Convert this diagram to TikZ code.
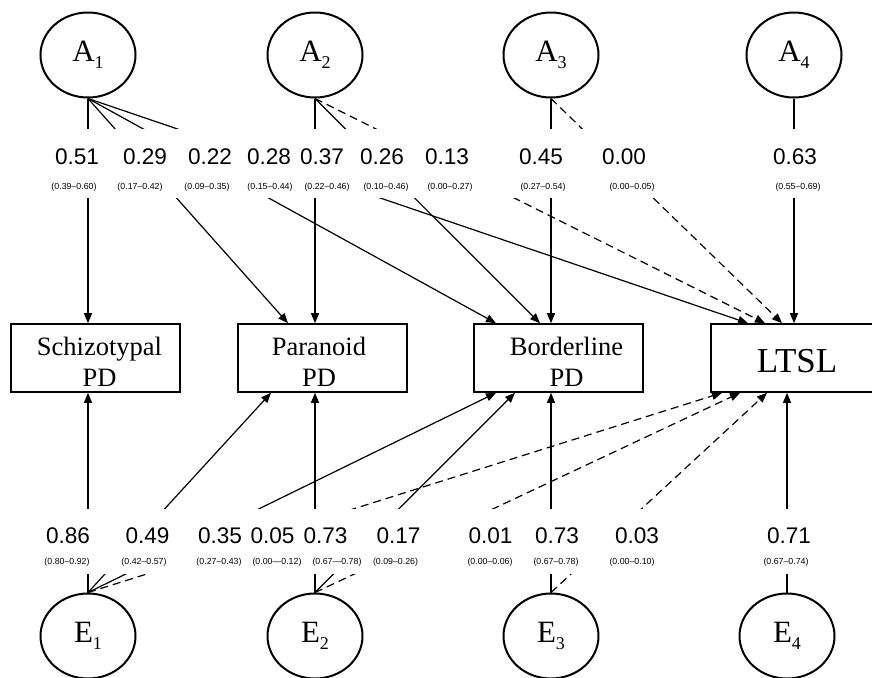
\documentclass[tikz,border=0pt]{standalone}
\usepackage{fontspec}
\setmainfont{Liberation Serif}
\newfontfamily\numfont{Liberation Sans}
\usetikzlibrary{shapes, positioning, arrows.meta, calc}

\newcommand{\lat}[2]{#1\raisebox{-3.5pt}{\fontsize{9}{9}\selectfont #2}}

\tikzset{
    latent/.style={ellipse, draw, line width=1pt, minimum width=47.5pt, minimum height=42.5pt, inner sep=0pt, font=\fontsize{15.5}{18}\selectfont},
    pdbox/.style={rectangle, draw, line width=0.8pt, minimum width=84.5pt, minimum height=34pt},
    pdtext/.style={align=center, inner sep=0pt, font=\fontsize{13.25}{15.8}\selectfont},
    est/.style={inner sep=0pt, font=\numfont\fontsize{11.3}{12}\selectfont},
    ci/.style={inner sep=0pt, font=\numfont\fontsize{4.4}{5}\selectfont},
    arr/.style={line width=0.6pt, -{Triangle[length=5pt, width=4pt]}},
    nsarr/.style={arr, dash pattern=on 4pt off 2.5pt}
}

\begin{document}
\begin{tikzpicture}[x=0.5pt, y=-0.5pt]
        \useasboundingbox (0,0) rectangle (872,677);
        \clip (0,0) rectangle (872,677);

        % latent factors
        \node[latent] (A1) at (88, 55) {\lat{A}{1}};
        \node[latent] (A2) at (315, 55) {\lat{A}{2}};
        \node[latent] (A3) at (551, 55) {\lat{A}{3}};
        \node[latent] (A4) at (794, 55) {\lat{A}{4}};
        \node[latent] (E1) at (88, 636) {\lat{E}{1}};
        \node[latent] (E2) at (315, 636) {\lat{E}{2}};
        \node[latent] (E3) at (551, 636) {\lat{E}{3}};
        \node[latent] (E4) at (787, 636) {\lat{E}{4}};

        % observed
        \node[pdbox] (schizo) at (95.5, 358) {};
        \node[pdbox] (parano) at (322.5, 358) {};
        \node[pdbox] (border) at (558.5, 358) {};
        \node[pdbox] (ltsl) at (795.5, 358) {};
        \node[pdtext] (schizot) at (99.5, 362) {Schizotypal\\PD};
        \node[pdtext] (paranot) at (319, 362) {Paranoid\\PD};
        \node[pdtext] (bordert) at (566.5, 362) {Borderline\\PD};
        \node[inner sep=0pt, font=\fontsize{17.5}{20}\selectfont] (ltslt) at (797, 361) {LTSL};

        % A paths
        \draw[arr] (A1.south) -- (A1 |- schizo.north);
        \draw[arr] (A1.south) -- ($(parano.north)+(-34.5,0)$);
        \draw[arr] (A1.south) -- ($(border.north)+(-62.5,0)$);
        \draw[arr] (A1.south) -- ($(ltsl.north)+(-47.5,0)$);
        \draw[arr] (A2.south) -- (A2 |- parano.north);
        \draw[arr] (A2.south) -- ($(border.north)+(-18.5,0)$);
        \draw[nsarr] (A2.south) -- ($(ltsl.north)+(-30.5,0)$);
        \draw[arr] (A3.south) -- (A3 |- border.north);
        \draw[nsarr] (A3.south) -- ($(ltsl.north)+(-13.5,0)$);
        \draw[arr] (A4.south) -- (A4 |- ltsl.north);

        % E paths
        \draw[arr] (E1.north) -- (E1 |- schizo.south);
        \draw[arr] (E1.north) -- ($(parano.south)+(-51.5,0)$);
        \draw[arr] (E1.north) -- ($(border.south)+(-62.5,0)$);
        \draw[nsarr] (E1.north) -- ($(ltsl.south)+(-73.5,0)$);
        \draw[arr] (E2.north) -- (E2 |- parano.south);
        \draw[arr] (E2.north) -- ($(border.south)+(-43.5,0)$);
        \draw[nsarr] (E2.north) -- ($(ltsl.south)+(-55.5,0)$);
        \draw[arr] (E3.north) -- (E3 |- border.south);
        \draw[nsarr] (E3.north) -- ($(ltsl.south)+(-28.5,0)$);
        \draw[arr] (E4.north) -- (E4 |- ltsl.south);

        % label bands
        \fill[white] (0,129) rectangle (872,198);
        \fill[white] (0,509) rectangle (872,574);

        % A estimates
        \node[est] (a11) at (77, 157) {0.51};   \node[ci] (a11ci) at (74, 187) {(0.39–0.60)};
        \node[est] (a12) at (145, 157) {0.29};  \node[ci] (a12ci) at (140, 187) {(0.17–0.42)};
        \node[est] (a13) at (210, 157) {0.22};  \node[ci] (a13ci) at (207, 187) {(0.09–0.35)};
        \node[est] (a14) at (269, 157) {0.28};  \node[ci] (a14ci) at (270, 187) {(0.15–0.44)};
        \node[est] (a22) at (322, 157) {0.37};  \node[ci] (a22ci) at (327, 187) {(0.22–0.46)};
        \node[est] (a23) at (382, 157) {0.26};  \node[ci] (a23ci) at (386, 187) {(0.10–0.46)};
        \node[est] (a24) at (447, 157) {0.13};  \node[ci] (a24ci) at (450, 187) {(0.00–0.27)};
        \node[est] (a33) at (541, 157) {0.45};  \node[ci] (a33ci) at (543, 187) {(0.27–0.54)};
        \node[est] (a34) at (624, 157) {0.00};  \node[ci] (a34ci) at (632, 187) {(0.00–0.05)};
        \node[est] (a44) at (795, 157) {0.63};  \node[ci] (a44ci) at (798, 187) {(0.55–0.69)};

        % E estimates
        \node[est] (e11) at (68, 536) {0.86};    \node[ci] (e11ci) at (67, 562) {(0.80–0.92)};
        \node[est] (e12) at (147.5, 536) {0.49}; \node[ci] (e12ci) at (144, 562) {(0.42–0.57)};
        \node[est] (e13) at (220, 536) {0.35};   \node[ci] (e13ci) at (219, 562) {(0.27–0.43)};
        \node[est] (e14) at (272.5, 536) {0.05}; \node[ci] (e14ci) at (277, 562) {(0.00—0.12)};
        \node[est] (e22) at (325.5, 536) {0.73}; \node[ci] (e22ci) at (337, 562) {(0.67—0.78)};
        \node[est] (e23) at (398.5, 536) {0.17}; \node[ci] (e23ci) at (395.5, 562) {(0.09–0.26)};
        \node[est] (e24) at (490.5, 536) {0.01}; \node[ci] (e24ci) at (490, 562) {(0.00–0.06)};
        \node[est] (e33) at (557, 536) {0.73};   \node[ci] (e33ci) at (556, 562) {(0.67–0.78)};
        \node[est] (e34) at (637, 536) {0.03};   \node[ci] (e34ci) at (632, 562) {(0.00–0.10)};
        \node[est] (e44) at (789, 536) {0.71};   \node[ci] (e44ci) at (786, 562) {(0.67–0.74)};
\end{tikzpicture}
\end{document}
